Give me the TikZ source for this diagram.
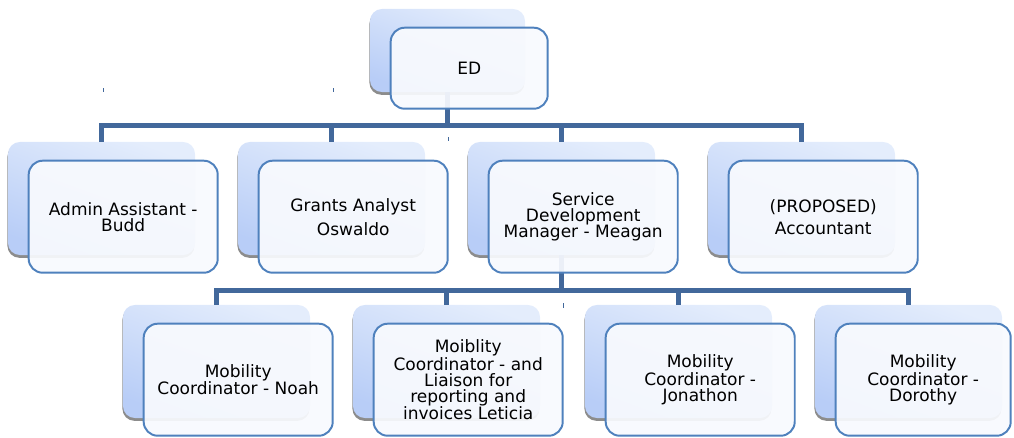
\documentclass[tikz,border=0pt]{standalone}
\usepackage{fontspec}
\setmainfont{DejaVu Sans}
\usetikzlibrary{shadows}

\definecolor{linkblue}{RGB}{66,104,155}
\definecolor{frameblue}{RGB}{79,129,189}
\definecolor{backtop}{RGB}{228,237,252}
\definecolor{backbot}{RGB}{184,205,247}
\definecolor{cardfill}{RGB}{248,250,254}

\begin{document}
\begin{tikzpicture}[
x=0.025cm, y=-0.025cm,
back/.style={rectangle, rounded corners=0.3cm, inner sep=0pt, minimum width=4.675cm, minimum height=2.825cm,
  top color=backtop, bottom color=backbot, shading angle=-20,
  drop shadow={shadow xshift=-0.4pt, shadow yshift=-2pt, fill=black!45, opacity=1}},
card/.style={rectangle, rounded corners=0.35cm, draw=frameblue, line width=1.4pt, fill=cardfill,
  fill opacity=0.93, text opacity=1, inner sep=2pt, align=center, anchor=north west,
  minimum width=4.725cm, minimum height=2.8cm, font=\fontsize{12.1}{11.4}\selectfont},
link/.style={draw=linkblue, line width=3.6pt},
tick/.style={draw=linkblue, line width=0.7pt}
]
\useasboundingbox (0,0) rectangle (1014,437);

%Back boxes
\node[back, minimum width=3.875cm, minimum height=2.075cm] (ED) at (447.5,50.5) {};

\node[back] (AA) at (101.5,198.5) {};
\node[back] (GA) at (331.5,198.5) {};
\node[back] (SD) at (561.5,198.5) {};
\node[back] (AC) at (801.5,198.5) {};

\node[back] (MN) at (216.5,361.5) {};
\node[back] (ML) at (446.5,361.5) {};
\node[back] (MJ) at (678.5,361.5) {};
\node[back] (MD) at (908.5,361.5) {};

%Lines
\draw[link] (ED.south) -- ++(0,33) -| (AA.north);
\draw[link] (ED.south) -- ++(0,33) -| (GA.north);
\draw[link] (ED.south) -- ++(0,33) -| (SD.north);
\draw[link] (ED.south) -- ++(0,33) -| (AC.north);

\draw[link] (SD.south) -- ++(0,35) -| (MN.north);
\draw[link] (SD.south) -- ++(0,35) -| (ML.north);
\draw[link] (SD.south) -- ++(0,35) -| (MJ.north);
\draw[link] (SD.south) -- ++(0,35) -| (MD.north);

%small ticks
\draw[tick] (103,88) -- (103,92);
\draw[tick] (333,88) -- (333,92);
\draw[tick] (448,137) -- (448,141);
\draw[tick] (563,303) -- (563,308);

%Front cards
\node[card, minimum width=3.925cm, minimum height=2.025cm] (EDt) at ([shift={(20,18)}]ED.north west) {ED};

\node[card] (AAt) at ([shift={(20,18)}]AA.north west) {Admin Assistant -\\Budd};
\node[card] (GAt) at ([shift={(20,18)}]GA.north west) {Grants Analyst\\[4.3pt]Oswaldo};
\node[card] (SDt) at ([shift={(20,18)}]SD.north west) {Service\\Development\\Manager - Meagan};
\node[card] (ACt) at ([shift={(20,18)}]AC.north west) {(PROPOSED)\\[4.3pt]Accountant};

\node[card] (MNt) at ([shift={(20,18)}]MN.north west) {Mobility\\Coordinator - Noah};
\node[card] (MLt) at ([shift={(20,18)}]ML.north west) {Moiblity\\Coordinator - and\\Liaison for\\reporting and\\invoices Leticia};
\node[card] (MJt) at ([shift={(20,18)}]MJ.north west) {Mobility\\Coordinator -\\Jonathon};
\node[card, minimum width=4.375cm] (MDt) at ([shift={(20,18)}]MD.north west) {Mobility\\Coordinator -\\Dorothy};
\end{tikzpicture}
\end{document}
